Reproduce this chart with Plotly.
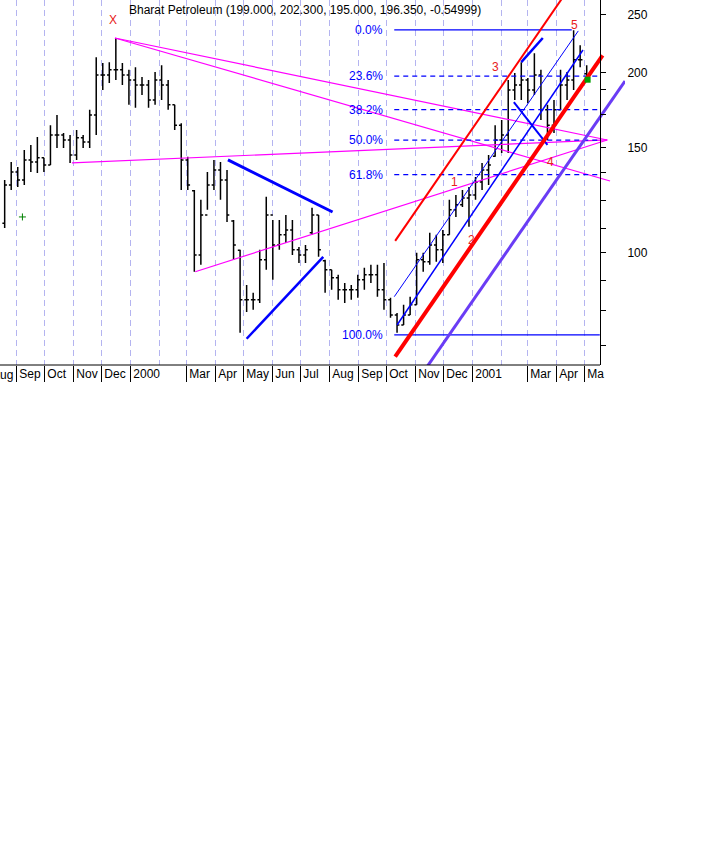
import math
import pandas as pd
import plotly.graph_objects as go

# weekly bars (Bharat Petroleum, Aug 1999 - May 2001)
week_start = "1999-08-19"
opens = [112.0, 129.8, 136.4, 132.3, 142.9, 141.8, 144.1, 140.2, 157.3, 157.3,
         154.3, 145.7, 155.6, 153.1, 169.9, 198.0, 198.0, 202.0, 202.0, 198.0,
         194.2, 190.6, 190.6, 179.9, 194.2, 190.6, 176.6, 163.3, 142.9, 127.0,
         99.2, 115.7, 129.8, 137.5, 132.3, 113.0, 101.0, 83.5, 83.5, 83.5,
         97.4, 115.7, 103.1, 107.2, 109.2, 101.2, 99.2, 108.0, 115.7, 97.0,
         93.7, 90.9, 86.8, 86.8, 86.8, 90.2, 91.9, 91.9, 86.8, 83.5,
         78.8, 75.8, 78.8, 81.9, 97.4, 96.6, 103.1, 101.2, 107.2, 118.0,
         120.3, 123.5, 124.9, 131.3, 137.5, 145.0, 154.3, 157.3, 186.9, 190.6,
         194.2, 186.9, 198.0, 173.3, 163.3, 173.3, 190.6, 194.2, 210.0, 199.0]
highs = [132.3, 141.8, 139.1, 148.5, 151.4, 156.1, 144.1, 163.3, 169.9, 158.5,
         157.3, 160.3, 157.3, 173.3, 212.0, 207.3, 208.0, 228.3, 207.3, 202.0,
         204.0, 196.5, 194.2, 200.4, 205.6, 194.2, 176.6, 164.6, 144.6, 127.3,
         122.6, 136.4, 142.9, 141.8, 137.5, 113.5, 101.2, 88.4, 85.8, 101.2,
         124.0, 113.5, 113.5, 115.7, 113.5, 102.3, 103.1, 118.9, 115.7, 97.4,
         93.7, 91.9, 89.1, 88.4, 91.9, 94.4, 95.5, 95.5, 96.2, 84.2,
         79.4, 81.9, 84.5, 100.0, 100.0, 108.0, 107.2, 109.2, 122.6, 124.9,
         127.3, 128.8, 133.9, 141.3, 145.7, 163.3, 166.6, 194.2, 199.5, 208.0,
         195.7, 215.4, 202.0, 176.6, 179.9, 202.0, 200.4, 235.3, 222.0, 205.6]
lows = [110.0, 127.3, 128.8, 129.8, 136.4, 135.9, 136.4, 140.2, 149.6, 149.6,
        141.3, 142.9, 149.6, 149.6, 157.3, 186.9, 192.0, 194.2, 190.6, 176.6,
        174.6, 183.4, 174.6, 176.6, 179.9, 173.3, 160.3, 127.3, 127.3, 93.0,
        95.5, 118.0, 127.3, 122.6, 112.6, 97.4, 73.6, 79.7, 80.4, 82.5,
        93.7, 90.2, 101.2, 103.9, 99.2, 96.2, 96.2, 107.2, 98.5, 85.8,
        86.8, 83.5, 82.5, 83.5, 84.2, 86.8, 89.1, 84.5, 80.4, 77.9,
        73.6, 75.8, 78.8, 81.9, 93.0, 95.5, 96.6, 96.2, 107.2, 114.8,
        119.3, 110.5, 122.6, 127.3, 129.8, 144.6, 146.8, 146.8, 179.9, 179.9,
        177.8, 183.4, 166.6, 154.3, 158.5, 173.3, 179.9, 186.9, 204.0, 192.7]
closes = [129.8, 136.4, 132.3, 142.9, 141.8, 144.1, 140.2, 157.3, 157.3, 154.3,
          145.7, 155.6, 153.1, 169.9, 198.0, 198.0, 202.0, 202.0, 198.0, 194.2,
          190.6, 190.6, 179.9, 194.2, 190.6, 176.6, 163.3, 142.9, 129.8, 99.2,
          115.7, 129.8, 137.5, 132.3, 115.7, 103.1, 83.5, 83.5, 83.5, 97.4,
          115.7, 103.1, 107.2, 109.2, 101.2, 99.2, 101.2, 115.7, 101.2, 93.7,
          90.9, 86.8, 86.8, 86.8, 90.2, 91.9, 91.9, 86.8, 83.5, 78.8,
          75.8, 78.8, 81.9, 97.4, 96.6, 103.1, 101.2, 107.2, 118.0, 120.3,
          123.5, 124.9, 131.3, 137.5, 140.2, 154.3, 157.3, 186.9, 190.6, 194.2,
          186.9, 198.0, 173.3, 163.3, 173.3, 190.6, 194.2, 210.0, 210.0, 196.35]
dates = pd.date_range(week_start, periods=len(highs), freq="7D")

# trend lines (date, price) end points
fan1_dates, fan1_prices = ["1999-12-15", "2001-05-25"], [228.3, 154.3]
fan2_dates, fan2_prices = ["1999-12-15", "2001-05-28"], [228.3, 131.8]
base_dates, base_prices = ["1999-10-30", "2001-05-25"], [141.3, 154.3]
rise_dates, rise_prices = ["2000-03-10", "2001-05-25"], [93.0, 154.3]
tri_top_dates, tri_top_prices = ["2000-04-14", "2000-08-04"], [142.9, 117.0]
tri_bot_dates, tri_bot_prices = ["2000-05-04", "2000-07-25"], [71.9, 98.5]
red_top_dates, red_top_prices = ["2000-10-10", "2001-04-20"], [104.7, 285.0]
red_mid_dates, red_mid_prices = ["2000-10-10", "2001-05-20"], [67.1, 213.6]
violet_dates, violet_prices = ["2000-11-05", "2001-06-13"], [61.9, 193.5]
thin_a_dates, thin_a_prices = ["2000-10-09", "2001-04-24"], [84.5, 234.6]
thin_b_dates, thin_b_prices = ["2000-10-12", "2001-04-29"], [75.8, 218.0]
short_dates, short_prices = ["2001-02-22", "2001-03-17"], [208.1, 228.3]
cross_dates, cross_prices = ["2001-02-14", "2001-03-22"], [178.5, 151.4]

# fibonacci retracement
fib_high, fib_low = 235.5, 73.0
fib_levels = [0.0, 23.6, 38.2, 50.0, 61.8, 100.0]
fib_start, fib_end, fib_top_end = "2000-10-09", "2001-05-17", "2001-04-17"

# elliott wave labels
wave_text = ["X", "1", "2", "3", "4", "5"]
wave_dates = ["1999-12-13", "2000-12-13", "2000-12-31", "2001-01-25", "2001-03-25", "2001-04-20"]
wave_prices = [244.5, 131.3, 105.1, 204.0, 141.8, 240.0]

month_vals = ["1999-09-01", "1999-10-01", "1999-11-01", "1999-12-01", "2000-01-01",
              "2000-03-01", "2000-04-01", "2000-05-01", "2000-06-01",
              "2000-07-01", "2000-08-01", "2000-09-01", "2000-10-01", "2000-11-01",
              "2000-12-01", "2001-01-01", "2001-03-01", "2001-04-01",
              "2001-05-01"]
month_text = ["Sep", "Oct", "Nov", "Dec", "2000", "Mar", "Apr", "May", "Jun",
              "Jul", "Aug", "Sep", "Oct", "Nov", "Dec", "2001", "Mar", "Apr", "Ma"]
unlabelled_months = ["2000-02-01", "2001-02-01"]

price_ticks = [100, 150, 200, 250]
minor_price_ticks = [70, 80, 90, 110, 122.5, 136, 170, 187.5]

FONT = "Liberation Sans, Arial, sans-serif"
BLUE = "#0000ff"
RED = "#ff0000"
PINK = "#ff00ff"
GRID = "#b4b4f0"

fig = go.Figure()

fig.add_trace(go.Ohlc(x=dates, open=opens, high=highs, low=lows, close=closes,
                      increasing_line_color="black", decreasing_line_color="black",
                      line_width=1.5, tickwidth=0.35, hoverinfo="skip", showlegend=False))


def add_line(xs, ys, color, width):
    fig.add_trace(go.Scatter(x=xs, y=ys, mode="lines", line=dict(color=color, width=width),
                             hoverinfo="skip", showlegend=False))


add_line(fan1_dates, fan1_prices, PINK, 1.2)
add_line(fan2_dates, fan2_prices, PINK, 1.2)
add_line(base_dates, base_prices, PINK, 1.2)
add_line(rise_dates, rise_prices, PINK, 1.2)
add_line(tri_top_dates, tri_top_prices, BLUE, 3)
add_line(tri_bot_dates, tri_bot_prices, BLUE, 2.5)

# fib lines (annotations on a log axis take log10 positions)
fib_prices = [fib_high - lv / 100 * (fib_high - fib_low) for lv in fib_levels]
for lv, p in zip(fib_levels, fib_prices):
    end = fib_top_end if lv == 0.0 else fib_end
    dash = "solid" if lv in (0.0, 100.0) else "5px,4px"
    fig.add_trace(go.Scatter(x=[fib_start, end], y=[p, p], mode="lines",
                             line=dict(color=BLUE, width=1.2, dash=dash),
                             hoverinfo="skip", showlegend=False))
    fig.add_annotation(x=fib_start, y=math.log10(p), yref="y", text=f"{lv:.1f}%",
                       showarrow=False, xanchor="right", yanchor="middle", xshift=-9,
                       font=dict(family=FONT, size=12, color=BLUE))

add_line(thin_a_dates, thin_a_prices, BLUE, 1)
add_line(thin_b_dates, thin_b_prices, BLUE, 1.5)
add_line(short_dates, short_prices, BLUE, 2.5)
add_line(cross_dates, cross_prices, BLUE, 2)
add_line(red_top_dates, red_top_prices, RED, 2)
add_line(red_mid_dates, red_mid_prices, RED, 4)
add_line(violet_dates, violet_prices, "#6a3cf5", 3)

# small green markers
fig.add_trace(go.Scatter(x=["1999-09-07"], y=[114.8], mode="markers",
                         marker=dict(symbol="cross-thin", size=5, line=dict(color="green", width=1)),
                         hoverinfo="skip", showlegend=False))
fig.add_trace(go.Scatter(x=["2001-05-04"], y=[194.5], mode="markers",
                         marker=dict(symbol="square", size=6, color="#00a000"),
                         hoverinfo="skip", showlegend=False))

for t, d, p in zip(wave_text, wave_dates, wave_prices):
    fig.add_annotation(x=d, y=math.log10(p), yref="y", text=t, showarrow=False,
                       font=dict(family=FONT, size=12, color="#e82020"))

fig.add_annotation(xref="paper", yref="paper", x=127 / 625, y=1 - 10 / 365,
                   text="Bharat Petroleum (199.000, 202.300, 195.000, 196.350, -0.54999)",
                   showarrow=False, xanchor="left", yanchor="middle",
                   font=dict(family=FONT, size=12, color="black"))
# the August label is cut by the left edge, as in the original
fig.add_annotation(xref="paper", yref="paper", x=-10 / 625, y=-10 / 365, text="Aug",
                   showarrow=False, xanchor="left", yanchor="middle",
                   font=dict(family=FONT, size=12, color="black"))

# bottom axis line stops at the price axis
fig.add_shape(type="line", xref="paper", yref="paper", x0=0, x1=600 / 625, y0=0, y1=0,
              line=dict(color="black", width=1))

fig.update_layout(
    width=717, height=862,
    margin=dict(l=0, r=92, t=0, b=497),
    paper_bgcolor="white", plot_bgcolor="white",
    font=dict(family=FONT, size=12, color="black"),
    showlegend=False,
    xaxis=dict(
        type="date", range=["1999-08-14", "2001-06-13"],
        rangeslider=dict(visible=False),
        tickmode="array", tickvals=month_vals, ticktext=month_text,
        ticks="outside", ticklen=16, tickcolor="black", tickwidth=1,
        tickangle=0, ticklabelposition="outside right", ticklabelshift=2,
        ticklabelstandoff=-2,
        tickfont=dict(family=FONT, size=12, color="black"),
        showgrid=True, gridcolor=GRID, gridwidth=1, griddash="6px,4px",
        showline=False, zeroline=False,
        minor=dict(tickmode="array", tickvals=unlabelled_months, ticks="", showgrid=True,
                   gridcolor=GRID, gridwidth=1, griddash="6px,4px"),
    ),
    yaxis=dict(
        type="log", range=[1.8129, 2.4219],
        side="right", anchor="free", position=600 / 625,
        showline=True, linecolor="black", linewidth=1,
        tickmode="array", tickvals=price_ticks, ticktext=[str(v) for v in price_ticks],
        ticks="outside", ticklen=5, tickcolor="black", ticklabelstandoff=19,
        tickfont=dict(family=FONT, size=12, color="black"),
        showgrid=False, zeroline=False,
        minor=dict(tickmode="array", tickvals=minor_price_ticks, ticks="outside",
                   ticklen=5, tickcolor="black", showgrid=False),
    ),
)

fig.write_html("out.html", config={"displayModeBar": False},
               post_script="document.body.style.margin='0';")
